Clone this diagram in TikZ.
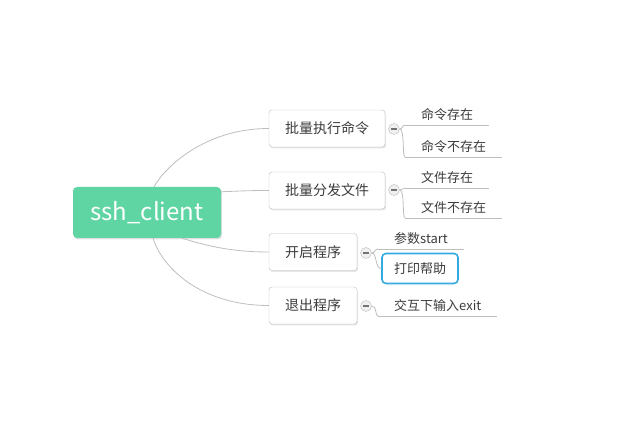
\documentclass[tikz,border=0pt]{standalone}
\usepackage{fontspec}
\setmainfont{Noto Sans CJK SC}
\usetikzlibrary{shadows}

\definecolor{rootgreen}{RGB}{94,213,163}
\definecolor{helpblue}{RGB}{52,170,225}
\definecolor{linkgray}{RGB}{190,190,190}
\definecolor{textgray}{RGB}{60,60,60}

\begin{document}
\begin{tikzpicture}[x=1pt, y=1pt,
  root/.style={fill=rootgreen, rounded corners=4pt, minimum width=148pt, minimum height=51pt,
    text=white, node font=\fontsize{24}{28}\selectfont,
    drop shadow={shadow xshift=1pt, shadow yshift=-1.5pt, opacity=0.25}},
  topic/.style={draw=linkgray, fill=white, rounded corners=3pt, minimum height=37pt,
    text=textgray, node font=\fontsize{14}{16}\selectfont,
    drop shadow={shadow xshift=1pt, shadow yshift=-1.5pt, opacity=0.2}},
  fold/.style={circle, draw=gray!55, fill=gray!12, minimum size=11pt, inner sep=0pt,
    path picture={\draw[gray!90!black, line width=1.6pt]
      ([xshift=-3pt]path picture bounding box.center) -- ([xshift=3pt]path picture bounding box.center);}},
  leaf/.style={anchor=south west, inner xsep=16pt, inner ysep=4pt,
    text=textgray, node font=\fontsize{13}{15}\selectfont},
  help/.style={draw=helpblue, line width=1.6pt, fill=white, rounded corners=4pt,
    minimum width=76pt, minimum height=30pt, text=textgray, node font=\fontsize{13}{15}\selectfont},
  link/.style={draw=linkgray, line width=0.8pt}]
\useasboundingbox (0, 0) rectangle (630, 422);

% main topics
\node [root] (root) at (147, 209.5) {ssh\_client};
\node [topic, minimum width=116pt] (cmd) at (327, 293.5) {批量执行命令};
\node [topic, minimum width=116pt] (file) at (327, 231.5) {批量分发文件};
\node [topic, minimum width=88pt] (start) at (313, 170) {开启程序};
\node [topic, minimum width=88pt] (exit) at (313, 116.5) {退出程序};

\node [fold] (cmdfold) at (394, 293) {};
\node [fold] (filefold) at (394, 232) {};
\node [fold] (startfold) at (366, 169) {};
\node [fold] (exitfold) at (366, 116) {};

% subtopics
\node [leaf] (cmdyes) at (405, 297) {命令存在};
\node [leaf] (cmdno) at (405, 265) {命令不存在};
\node [leaf] (fileyes) at (405, 234) {文件存在};
\node [leaf] (fileno) at (405, 204) {文件不存在};
\node [leaf] (param) at (378, 173) {参数start};
\node [help] (help) at (420, 153.5) {打印帮助};
\node [leaf] (input) at (378, 106) {交互下输入exit};

\foreach \n in {cmdyes, cmdno, fileyes, fileno, param, input}
  \draw [link] (\n.south west) -- (\n.south east);

% root to topics
\draw [link] ([xshift=7pt]root.north) .. controls (165, 255) and (205, 293.5) .. (cmd.west);
\draw [link] ([yshift=-5pt]root.north east) .. controls (240, 231) and (250, 231.5) .. (file.west);
\draw [link] ([xshift=35pt]root.south) .. controls (210, 175) and (235, 170) .. (start.west);
\draw [link] ([xshift=6pt]root.south) .. controls (162, 155) and (200, 116.5) .. (exit.west);

% topics to subtopics
\draw [link] (cmdfold.east) .. controls (403, 293) and (402, 297) .. (cmdyes.south west);
\draw [link] (cmdfold.east) .. controls (405, 293) and (402, 265) .. (cmdno.south west);
\draw [link] (filefold.east) .. controls (403, 232) and (402, 234) .. (fileyes.south west);
\draw [link] (filefold.east) .. controls (405, 232) and (402, 204) .. (fileno.south west);
\draw [link] (startfold.east) .. controls (375, 169) and (375, 173) .. (param.south west);
\draw [link] (startfold.east) .. controls (377, 169) and (375, 153.5) .. (help.west);
\draw [link] (exitfold.east) .. controls (377, 116) and (375, 106) .. (input.south west);
\end{tikzpicture}
\end{document}
